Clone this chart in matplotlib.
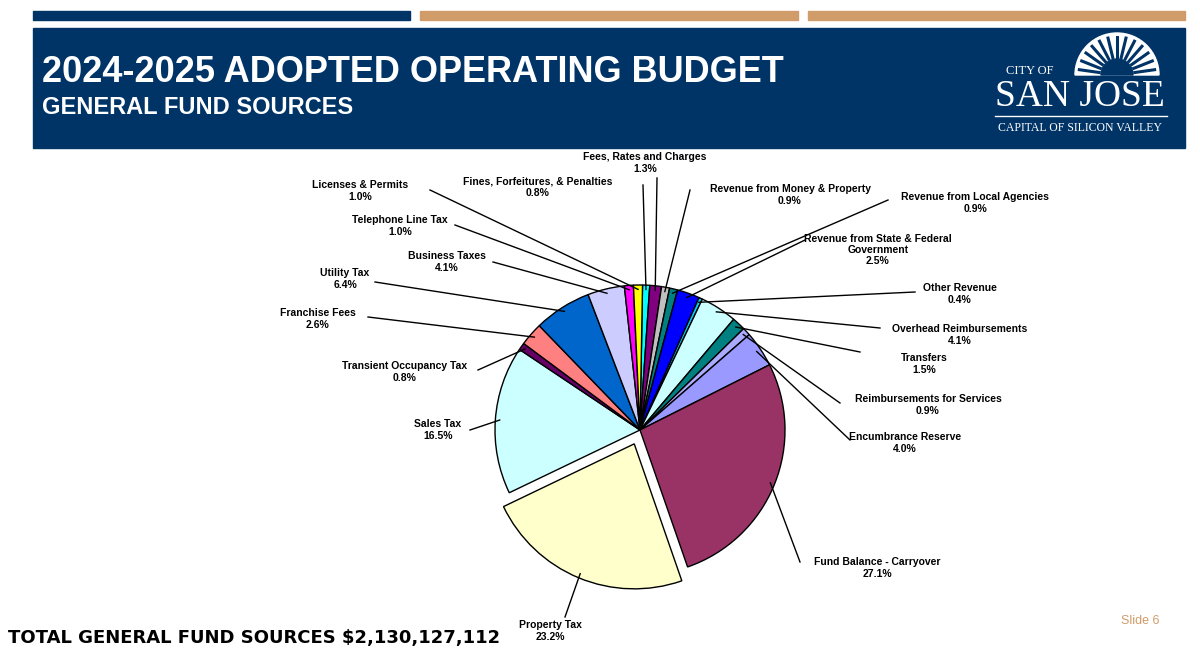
import numpy as np
import matplotlib.pyplot as plt
from matplotlib.patches import Rectangle, Wedge

# Daten (Reihenfolge im Uhrzeigersinn ab 12 Uhr)
labels = ["Fines, Forfeitures, & Penalties", "Fees, Rates and Charges",
          "Revenue from Money & Property", "Revenue from Local Agencies",
          "Revenue from State & Federal\nGovernment", "Other Revenue",
          "Overhead Reimbursements", "Transfers", "Reimbursements for Services",
          "Encumbrance Reserve", "Fund Balance - Carryover", "Property Tax",
          "Sales Tax", "Transient Occupancy Tax", "Franchise Fees", "Utility Tax",
          "Business Taxes", "Telephone Line Tax", "Licenses & Permits"]
values = [0.8, 1.3, 0.9, 0.9, 2.5, 0.4, 4.1, 1.5, 0.9, 4.0, 27.1, 23.2,
          16.5, 0.8, 2.6, 6.4, 4.1, 1.0, 1.0]
colors = ["#00FFFF", "#800080", "#C0C0C0", "#008080", "#0000FF", "#00CCFF",
          "#CCFFFF", "#008080", "#AAAAFF", "#9999FF", "#993366", "#FFFFCC",
          "#CCFFFF", "#660066", "#FF8080", "#0066CC", "#CCCCFF", "#FF00FF",
          "#FFFF00"]
total_text = "TOTAL GENERAL FUND SOURCES $2,130,127,112"

# Beschriftungspositionen (Pixel, y von oben): Text-Mitte, Linienende
label_pos = [(538, 187, 643, 185), (645, 163, 657, 178), (790, 195, 690, 190),
             (975, 203, 888, 200), (878, 250, 805, 240), (960, 294, 915, 292),
             (960, 335, 880, 328), (924, 364, 860, 352), (928, 405, 840, 403),
             (905, 443, 850, 440), (877, 568, 800, 562), (550, 631, 565, 617),
             (438, 430, 470, 430), (405, 372, 478, 370), (318, 319, 368, 317),
             (345, 279, 375, 282), (447, 262, 493, 262), (400, 226, 455, 225),
             (360, 191, 430, 190)]

W, H = 1200, 661
fig = plt.figure(figsize=(12, 6.61), dpi=100)
ax = fig.add_axes([0, 0, 1, 1])

navy = "#003366"
tan = "#D09C6A"
# Kopfbereich
ax.add_patch(Rectangle((33, H - 20), 377, 9, color=navy))
ax.add_patch(Rectangle((420, H - 20), 378, 9, color=tan))
ax.add_patch(Rectangle((808, H - 20), 377, 9, color=tan))
ax.add_patch(Rectangle((33, H - 148), 1152, 120, color=navy))
ax.text(42, H - 72, "2024-2025 ADOPTED OPERATING BUDGET", color="white",
        fontsize=26, fontweight="bold", va="center", family="Liberation Sans")
ax.text(42, H - 108, "GENERAL FUND SOURCES", color="white",
        fontsize=17, fontweight="bold", va="center", family="Liberation Sans")
# Logo
sx, sy = 1117, H - 75
ax.add_patch(Wedge((sx, sy), 42, 0, 180, color="white"))
ax.add_patch(Wedge((sx, sy), 16, 0, 180, color=navy))
for a in np.linspace(8, 172, 13):
    r = np.radians(a)
    ax.plot([sx + 18 * np.cos(r), sx + 38 * np.cos(r)],
            [sy + 18 * np.sin(r), sy + 38 * np.sin(r)], color=navy, lw=2.2)
ax.text(1030, H - 71, "CITY OF", color="white", fontsize=9, ha="center",
        va="center", family="Liberation Serif")
ax.text(1080, H - 97, "SAN JOSE", color="white", fontsize=27, ha="center",
        va="center", family="Liberation Serif")
ax.plot([995, 1167], [H - 116, H - 116], color="white", lw=1)
ax.text(1080, H - 128, "CAPITAL OF SILICON VALLEY", color="white", fontsize=8.5,
        ha="center", va="center", family="Liberation Serif")

# Kreisdiagramm
cx, cy, R = 640, H - 430, 145
explode = [15 if l == "Property Tax" else 0 for l in labels]
wedges, _ = ax.pie(values, colors=colors, startangle=89, counterclock=False,
                   center=(cx, cy), radius=R, explode=explode, frame=True,
                   wedgeprops=dict(edgecolor="black", linewidth=1))
ax.set_xlim(0, W)
ax.set_ylim(0, H)
ax.set_aspect("equal")
ax.axis("off")

for w, lab, v, (tx, ty, lx, ly) in zip(wedges, labels, values, label_pos):
    ang = np.radians((w.theta1 + w.theta2) / 2)
    ex, ey = w.center
    px, py = ex + 0.97 * R * np.cos(ang), ey + 0.97 * R * np.sin(ang)
    ax.plot([lx, px], [H - ly, py], color="black", lw=1)
    ax.text(tx, H - ty, f"{lab}\n{v:.1f}%", ha="center", va="center",
            fontsize=7.5, fontweight="bold", linespacing=1.15,
            family="Liberation Sans")

ax.text(8, H - 638, total_text, fontsize=13, fontweight="bold", va="center",
        family="DejaVu Sans")
ax.text(1140, H - 621, "Slide 6", color=tan, fontsize=9, ha="center",
        va="center", family="Liberation Sans")

fig.savefig("out.png", dpi=100)
